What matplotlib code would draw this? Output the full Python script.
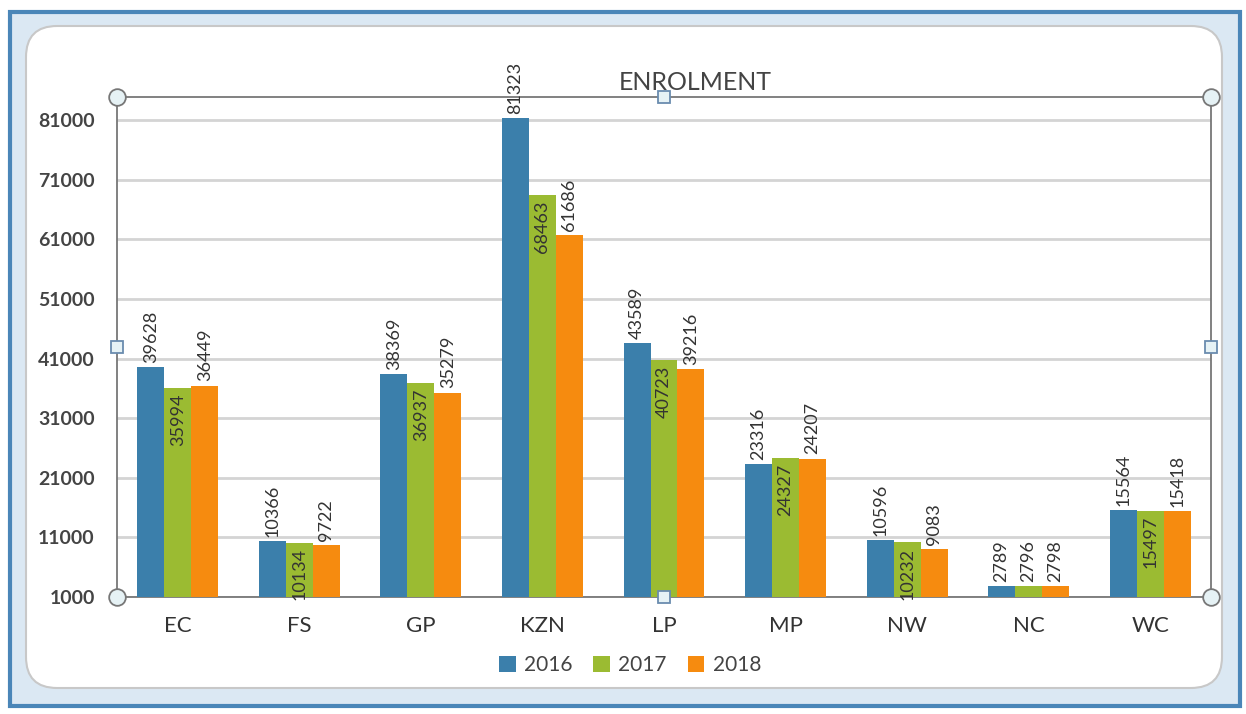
import matplotlib
matplotlib.use("Agg")
import matplotlib.pyplot as plt
from matplotlib.patches import FancyBboxPatch, Rectangle
import numpy as np

categories = ["EC", "FS", "GP", "KZN", "LP", "MP", "NW", "NC", "WC"]
years = ["2016", "2017", "2018"]
v2016 = [39628, 10366, 38369, 81323, 43589, 23316, 10596, 2789, 15564]
v2017 = [35994, 10134, 36937, 68463, 40723, 24327, 10232, 2796, 15497]
v2018 = [36449, 9722, 35279, 61686, 39216, 24207, 9083, 2798, 15418]
yticks = [1000, 11000, 21000, 31000, 41000, 51000, 61000, 71000, 81000]

colors = ["#3b7fab", "#9bbb32", "#f68b0f"]
W, H = 1246, 714
fig = plt.figure(figsize=(W / 100, H / 100), dpi=100)
plt.rcParams['font.family'] = ['Lato', 'DejaVu Sans']

# outer window frame
fig.patches.append(Rectangle((10 / W, 1 - 706 / H), 1230 / W, 694 / H, transform=fig.transFigure,
                             facecolor="#dbe8f3", edgecolor="#4a86b8", linewidth=3, zorder=-3))
fig.patches.append(FancyBboxPatch((26 / W, 1 - 688 / H), 1196 / W, 662 / H,
                                  boxstyle="round,pad=0,rounding_size=0.025",
                                  transform=fig.transFigure, facecolor="white",
                                  edgecolor="#c8c8c8", linewidth=1.5, zorder=-2,
                                  mutation_aspect=W / H))

ax = fig.add_axes([117 / W, 1 - 597 / H, (1211 - 117) / W, (597 - 97) / H])
ax.set_zorder(2)
ax.set_facecolor("none")
ax.set_xlim(-0.5, len(categories) - 0.5)
ax.set_ylim(1000, 84860)

x = np.arange(len(categories))
bw = 0.222
series = [v2016, v2017, v2018]
for i, (vals, c) in enumerate(zip(series, colors)):
    xs = x + (i - 1) * bw
    bottoms = [1000] * len(vals)
    heights = [v - 1000 for v in vals]
    ax.bar(xs, heights, bottom=bottoms, width=bw, color=c, zorder=3, label=years[i])
    for xx, v in zip(xs, vals):
        if i == 1 and v - 1000 > 5000:
            ax.annotate(str(v), (xx, v), xytext=(0, -4), textcoords="offset points",
                        rotation=90, ha="center", va="top", fontsize=13, color="#333333", zorder=4)
        else:
            ax.annotate(str(v), (xx, v), xytext=(0, 3), textcoords="offset points",
                        rotation=90, ha="center", va="bottom", fontsize=13, color="#333333", zorder=4,
                        annotation_clip=False)

ax.set_yticks(yticks)
ax.set_yticklabels([str(t) for t in yticks], fontsize=14, fontweight="bold", color="#444444")
ax.set_xticks(x)
ax.set_xticklabels(categories, fontsize=16, color="#333333")
ax.tick_params(axis="both", length=0)
ax.tick_params(axis="y", pad=16)
ax.tick_params(axis="x", pad=14)
ax.grid(axis="y", color="#d4d4d4", linewidth=2, zorder=0)
ax.set_axisbelow(True)
for s in ["left", "right", "top", "bottom"]:
    ax.spines[s].set_color("#777777")
    ax.spines[s].set_linewidth(1.3)

# selection handles
for (hx, hy) in [(0, 0), (1, 0), (0, 1), (1, 1)]:
    ax.plot(hx, hy, marker="o", markersize=12, markerfacecolor="#e6f2f5", markeredgecolor="#777777",
            markeredgewidth=1.3, transform=ax.transAxes, clip_on=False, zorder=6)
for (hx, hy) in [(0.5, 0), (0.5, 1), (0, 0.5), (1, 0.5)]:
    ax.plot(hx, hy, marker="s", markersize=9, markerfacecolor="#e6f2f5", markeredgecolor="#6a8caf",
            markeredgewidth=1.3, transform=ax.transAxes, clip_on=False, zorder=6)

fig.text(695 / W, 1 - 83 / H, "ENROLMENT", ha="center", va="center", fontsize=18, color="#444444")

leg = fig.legend(loc="center", bbox_to_anchor=(630 / W, 1 - 665 / H), ncol=3, frameon=False,
                 fontsize=15, handlelength=0.8, handleheight=0.8, handletextpad=0.4, columnspacing=1.0)
for t in leg.get_texts():
    t.set_color("#444444")

fig.savefig("out.png", dpi=100)
